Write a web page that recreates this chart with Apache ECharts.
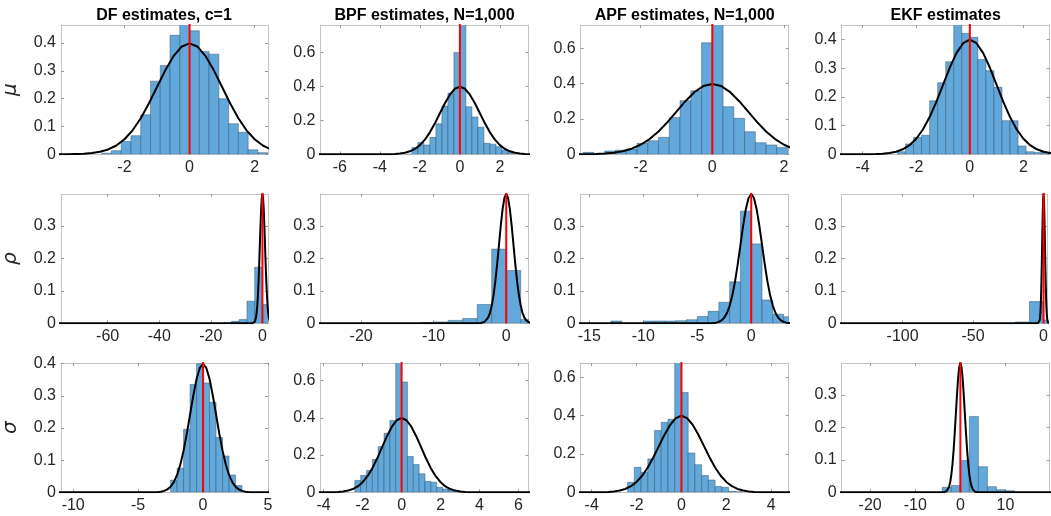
<!DOCTYPE html>
<html>
<head>
<meta charset="utf-8">
<script src="https://cdn.jsdelivr.net/npm/echarts@6/dist/echarts.min.js"></script>
<style>
html, body { margin: 0; padding: 0; background: #fff; }
#chart { width: 1051px; height: 516px; }
</style>
</head>
<body>
<div id="chart"></div>
<script>
var colTitles = ['DF estimates, c=1', 'BPF estimates, N=1,000', 'APF estimates, N=1,000', 'EKF estimates'];
var rowNames = ['μ', 'ρ', 'σ'];

// black reference curve (N(0,1) density as drawn)
var curveX = [-150, -4, -3.75, -3.5, -3.25, -3, -2.75, -2.5, -2.25, -2, -1.75, -1.5, -1.25, -1, -0.75, -0.5, -0.25,
  0, 0.25, 0.5, 0.75, 1, 1.25, 1.5, 1.75, 2, 2.25, 2.5, 2.75, 3, 3.25, 3.5, 3.75, 4, 25];
var curveY = [0, 0.0001, 0.0004, 0.0009, 0.002, 0.0044, 0.0091, 0.0175, 0.0317, 0.054, 0.0863, 0.1295, 0.1826, 0.242, 0.3011, 0.3521, 0.3867,
  0.3989, 0.3867, 0.3521, 0.3011, 0.242, 0.1826, 0.1295, 0.0863, 0.054, 0.0317, 0.0175, 0.0091, 0.0044, 0.002, 0.0009, 0.0004, 0.0001, 0];

// histogram heights; bins start at binStart and are binWidth wide
var muDF  = [0.004, 0.013, 0.046, 0.067, 0.142, 0.263, 0.319, 0.428, 0.48, 0.444, 0.37, 0.36, 0.2, 0.11, 0.079, 0.016, 0.006];
var muBPF = [0, 0.04, 0.07, 0.055, 0.10, 0.18, 0.285, 0.36, 0.60, 0.80, 0.28, 0.22, 0.16, 0.065, 0.06, 0.045, 0.025, 0.01];
var muAPF = [0.011, 0, 0.019, 0.023, 0.03, 0.062, 0.077, 0.096, 0.209, 0.304, 0.36, 0.632, 0.78, 0.27, 0.204, 0.128, 0.066, 0.053, 0.038];
var muEKF = [0.009, 0.036, 0.059, 0.066, 0.186, 0.249, 0.322, 0.47, 0.421, 0.407, 0.33, 0.291, 0.233, 0.117, 0.117, 0.029, 0.009, 0.006, 0.006];
var rhoDF  = [0.002, 0.006, 0.012, 0.068, 0.173, 0.058];
var rhoBPF = [0.002, 0.004, 0.009, 0.015, 0.058, 0.229, 0.163, 0.012];
var rhoAPF = [0.007, 0, 0, 0.007, 0.007, 0.007, 0.008, 0.011, 0.021, 0.037, 0.065, 0.128, 0.346, 0.245, 0.072, 0.028, 0.02];
var rhoEKF = [0.004, 0.067, 0.01];
var sigDF  = [0.038, 0.075, 0.196, 0.335, 0.40, 0.34, 0.28, 0.17, 0.113, 0.054, 0.021];
var sigBPF = [0.063, 0.091, 0.117, 0.176, 0.246, 0.317, 0.386, 0.75, 0.592, 0.192, 0.149, 0.099, 0.059, 0.054, 0.027, 0.018, 0.013, 0.009];
var sigAPF = [0.052, 0.13, 0.104, 0.174, 0.322, 0.365, 0.381, 0.72, 0.52, 0.205, 0.144, 0.087, 0.064, 0.03, 0.026, 0.005, 0.003];
var sigEKF = [0.0155, 0.021, 0.098, 0.234, 0.079, 0.0175, 0.008, 0.005];

var heights  = [muDF, muBPF, muAPF, muEKF, rhoDF, rhoBPF, rhoAPF, rhoEKF, sigDF, sigBPF, sigAPF, sigEKF];
var binStart = [-2.7, -2.7, -3.6, -2.7, -15, -12, -13, -20, -2.5, -2.4, -2.4, -4];
var binWidth = [0.3, 0.3, 0.3, 0.3, 3, 2, 1, 10, 0.5, 0.3, 0.3, 2];

// axis extents and tick labels
var xRanges = [[-3.95, 2.41], [-6.97, 3.43], [-3.67, 2.13], [-4.78, 2.98],
  [-78.1, 2.16], [-25.6, 3.07], [-15.8, 3.47], [-143.2, 2.3],
  [-10.94, 5], [-4.16, 6.51], [-4.49, 4.78], [-26.3, 19.8]];
var yMax = [0.465, 0.763, 0.733, 0.45, 0.3989, 0.3989, 0.3989, 0.3989, 0.402, 0.694, 0.674, 0.3989];
var xTicks = [[-2, 0, 2], [-6, -4, -2, 0, 2], [-2, 0, 2], [-4, -2, 0, 2],
  [-60, -40, -20, 0], [-20, -10, 0], [-15, -10, -5, 0], [-100, -50, 0],
  [-10, -5, 0, 5], [-4, -2, 0, 2, 4, 6], [-4, -2, 0, 2, 4], [-20, -10, 0, 10]];
var yTicksA = [0, 0.1, 0.2, 0.3, 0.4];
var yTicksB = [0, 0.2, 0.4, 0.6];
var yTicksC = [0, 0.1, 0.2, 0.3];
var yTicks = [yTicksA, yTicksB, yTicksB, yTicksA, yTicksC, yTicksC, yTicksC, yTicksC, yTicksA, yTicksB, yTicksB, yTicksC];

var colLeft = [60, 320.5, 580.7, 841.7];
var rowTop = [25, 194, 363];
var plotW = 208, plotH = 129.3;
var font = '"Liberation Sans", Arial, Helvetica, sans-serif';

var chart = echarts.init(document.getElementById('chart'));

function renderBar(params, api) {
  var a = api.coord([api.value(0), api.value(2)]);
  var b = api.coord([api.value(1), 0]);
  return {
    type: 'rect',
    shape: { x: a[0], y: a[1], width: b[0] - a[0], height: b[1] - a[1] },
    style: { fill: '#62a8da', stroke: 'rgba(45,75,100,0.75)', lineWidth: 0.6 }
  };
}

var grids = [], xAxes = [], yAxes = [], series = [], graphics = [];
var lineCol = '#c4c4c4', tickCol = '#9a9a9a';

for (var i = 0; i < 12; i++) {
  var r = Math.floor(i / 4), c = i % 4;
  grids.push({ left: colLeft[c], top: rowTop[r], width: plotW, height: plotH });
  var xt = xTicks[i], yt = yTicks[i];
  // bottom and top x axes
  xAxes.push({
    type: 'value', gridIndex: i, position: 'bottom', min: xRanges[i][0], max: xRanges[i][1],
    axisLine: { show: true, onZero: false, lineStyle: { color: lineCol, width: 1 } },
    axisTick: { show: true, inside: true, length: 3, customValues: xt, lineStyle: { color: tickCol } },
    axisLabel: { customValues: xt, margin: 5, color: '#262626', fontSize: 16, fontFamily: font, hideOverlap: false },
    splitLine: { show: false }
  });
  xAxes.push({
    type: 'value', gridIndex: i, position: 'top', min: xRanges[i][0], max: xRanges[i][1],
    axisLine: { show: true, onZero: false, lineStyle: { color: lineCol, width: 1 } },
    axisTick: { show: true, inside: true, length: 3, customValues: xt, lineStyle: { color: tickCol } },
    axisLabel: { show: false }, splitLine: { show: false }
  });
  yAxes.push({
    type: 'value', gridIndex: i, position: 'left', min: 0, max: yMax[i],
    name: c === 0 ? rowNames[r] : '', nameLocation: 'middle', nameGap: 40, nameRotate: 90,
    nameTextStyle: { fontSize: 20, fontStyle: 'italic', fontFamily: '"DejaVu Sans", sans-serif', color: '#262626' },
    axisLine: { show: true, onZero: false, lineStyle: { color: lineCol, width: 1 } },
    axisTick: { show: true, inside: true, length: 3, customValues: yt, lineStyle: { color: tickCol } },
    axisLabel: { customValues: yt, margin: 5, color: '#262626', fontSize: 16, fontFamily: font, hideOverlap: false },
    splitLine: { show: false }
  });
  yAxes.push({
    type: 'value', gridIndex: i, position: 'right', min: 0, max: yMax[i],
    axisLine: { show: true, onZero: false, lineStyle: { color: lineCol, width: 1 } },
    axisTick: { show: true, inside: true, length: 3, customValues: yt, lineStyle: { color: tickCol } },
    axisLabel: { show: false }, splitLine: { show: false }
  });

  var bars = heights[i].map(function (h, k) {
    return [binStart[i] + k * binWidth[i], binStart[i] + (k + 1) * binWidth[i], h];
  });
  series.push({
    type: 'custom', xAxisIndex: 2 * i, yAxisIndex: 2 * i, clip: true, z: 2,
    renderItem: renderBar, encode: { x: [0, 1], y: 2 }, data: bars
  });
  series.push({
    type: 'line', xAxisIndex: 2 * i, yAxisIndex: 2 * i, symbol: 'none', clip: true, z: 3,
    smooth: false,
    lineStyle: { color: '#000', width: 2, join: 'round' },
    data: curveX.map(function (x, k) { return [x, curveY[k]]; })
  });
  series.push({
    type: 'line', xAxisIndex: 2 * i, yAxisIndex: 2 * i, symbol: 'none', clip: true, z: 4,
    lineStyle: { color: '#ff0000', width: 2 },
    data: [[0, 0], [0, 1]]
  });
}

for (var c = 0; c < 4; c++) {
  graphics.push({
    type: 'text', x: colLeft[c] + plotW / 2, y: 16,
    style: { text: colTitles[c], align: 'center', verticalAlign: 'middle',
      font: 'bold 16px ' + font, fill: '#000' }
  });
}

chart.setOption({
  animation: false,
  backgroundColor: '#fff',
  grid: grids,
  xAxis: xAxes,
  yAxis: yAxes,
  series: series,
  graphic: graphics
});
</script>
</body>
</html>
